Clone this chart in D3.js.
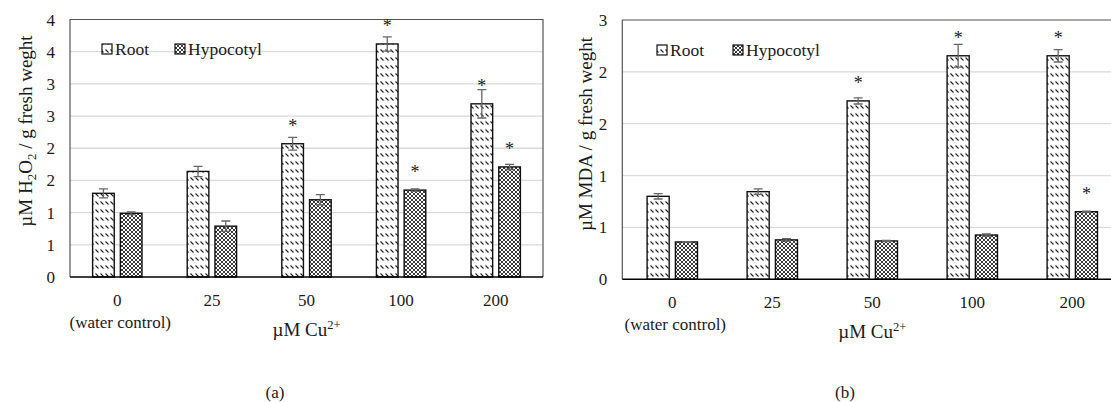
<!DOCTYPE html>
<html>
<head>
<meta charset="utf-8">
<script src="https://cdn.jsdelivr.net/npm/d3@7"></script>
<style>
    body { margin: 0; background: #fff; }
    text { font-family: "Liberation Serif", "Times New Roman", serif; fill: #1a1a1a; }
</style>
</head>
<body>
<svg id="chart" width="1111" height="402"></svg>
<script>
    // categories (uM Cu2+) and series
    var categories = ["0", "25", "50", "100", "200"];
    var seriesNames = ["Root", "Hypocotyl"];

    // (a) H2O2
    var h2o2Root = [1.30, 1.64, 2.07, 3.62, 2.69];
    var h2o2RootErr = [0.07, 0.08, 0.10, 0.11, 0.22];
    var h2o2Hypo = [0.99, 0.79, 1.20, 1.35, 1.71];
    var h2o2HypoErr = [0.02, 0.08, 0.08, 0.02, 0.04];
    var h2o2RootSig = [false, false, true, true, true];
    var h2o2HypoSig = [false, false, false, true, true];
    var h2o2Ticks = [0, 0.5, 1, 1.5, 2, 2.5, 3, 3.5, 4];
    var h2o2TickLabels = ["0", "1", "1", "2", "2", "3", "3", "4", "4"];

    // (b) MDA
    var mdaRoot = [0.80, 0.845, 1.72, 2.155, 2.155];
    var mdaRootErr = [0.026, 0.026, 0.03, 0.11, 0.06];
    var mdaHypo = [0.36, 0.38, 0.37, 0.427, 0.652];
    var mdaHypoErr = [0.004, 0.013, 0.006, 0.01, 0.005];
    var mdaRootSig = [false, false, true, true, true];
    var mdaHypoSig = [false, false, false, false, true];
    var mdaTicks = [0, 0.5, 1, 1.5, 2, 2.5];
    var mdaTickLabels = ["0", "1", "1", "2", "2", "3"];

    var svg = d3.select("#chart");

    // fill patterns like the excel ones
    var defs = svg.append("defs");
    var pRoot = defs.append("pattern").attr("id", "pat-root")
        .attr("patternUnits", "userSpaceOnUse").attr("width", 5).attr("height", 8);
    pRoot.append("rect").attr("width", 5).attr("height", 8).attr("fill", "#fff");
    pRoot.append("path").attr("d", "M0.5,1.5 L3.5,4.5").attr("stroke", "#222").attr("stroke-width", 1.1);

    var pHypo = defs.append("pattern").attr("id", "pat-hypo")
        .attr("patternUnits", "userSpaceOnUse").attr("width", 4).attr("height", 4);
    pHypo.append("rect").attr("width", 4).attr("height", 4).attr("fill", "#fff");
    pHypo.append("path").attr("d", "M0,0 L4,4 M4,0 L0,4").attr("stroke", "#3a3a3a").attr("stroke-width", 1);

    var fills = ["url(#pat-root)", "url(#pat-hypo)"];

    function drawPanel(cfg) {
        var g = svg.append("g");
        var x = d3.scaleBand().domain(categories)
            .range([cfg.left, cfg.right]).paddingInner(cfg.pad).paddingOuter(cfg.pad / 2);
        var xs = d3.scaleBand().domain(seriesNames)
            .range([0, x.bandwidth()]).paddingInner(0.22);
        var y = d3.scaleLinear().domain([0, cfg.yMax]).range([cfg.bottom, cfg.top]);

        // grid
        g.selectAll(".grid").data(cfg.ticks.slice(1, -1)).enter().append("line")
            .attr("x1", cfg.left).attr("x2", cfg.right)
            .attr("y1", function(d) { return y(d); }).attr("y2", function(d) { return y(d); })
            .attr("stroke", "#d9d9d9").attr("stroke-width", 1.3);

        // plot box
        g.append("path")
            .attr("d", "M" + cfg.left + "," + cfg.bottom + "V" + cfg.top + "H" + cfg.right + "V" + cfg.bottom)
            .attr("fill", "none").attr("stroke", "#555").attr("stroke-width", 1.2);

        // y tick labels
        g.selectAll(".ytl").data(cfg.ticks).enter().append("text")
            .attr("x", cfg.left - 15).attr("y", function(d) { return y(d) + 6; })
            .attr("text-anchor", "end").attr("font-size", 17)
            .text(function(d, i) { return cfg.tickLabels[i]; });

        var rows = categories.map(function(c, i) {
            return [
                {cat: c, s: 0, v: cfg.root[i], e: cfg.rootErr[i], sig: cfg.rootSig[i]},
                {cat: c, s: 1, v: cfg.hypo[i], e: cfg.hypoErr[i], sig: cfg.hypoSig[i]}
            ];
        });
        var bars = [].concat.apply([], rows);
        var bx = function(d) { return x(d.cat) + xs(seriesNames[d.s]); };
        var bw = xs.bandwidth();

        g.selectAll(".bar").data(bars).enter().append("rect")
            .attr("x", bx).attr("y", function(d) { return y(d.v); })
            .attr("width", bw).attr("height", function(d) { return y(0) - y(d.v); })
            .attr("fill", function(d) { return fills[d.s]; })
            .attr("stroke", "#111").attr("stroke-width", 1.4);

        // error bars
        var eb = g.selectAll(".err").data(bars).enter().append("g");
        eb.append("path")
            .attr("d", function(d) {
                var cx = bx(d) + bw / 2, y1 = y(d.v + d.e), y0 = y(d.v - d.e);
                return "M" + cx + "," + y0 + "V" + y1 + "M" + (cx - 4.5) + "," + y1 + "H" + (cx + 4.5) +
                    "M" + (cx - 4.5) + "," + y0 + "H" + (cx + 4.5);
            })
            .attr("fill", "none").attr("stroke", "#666").attr("stroke-width", 1.3);

        // significance stars
        g.selectAll(".star").data(bars.filter(function(d) { return d.sig; })).enter().append("text")
            .attr("x", function(d) { return bx(d) + bw / 2; })
            .attr("y", function(d) { return y(d.v) - 22 + 10; })
            .attr("text-anchor", "middle").attr("font-size", 18).attr("fill", "#3a3a4a")
            .text("*");

        // axis line
        g.append("line").attr("x1", cfg.left).attr("x2", cfg.right)
            .attr("y1", cfg.bottom).attr("y2", cfg.bottom)
            .attr("stroke", "#000").attr("stroke-width", 1.5);

        // x tick labels
        g.selectAll(".xtl").data(categories).enter().append("text")
            .attr("x", function(d) { return x(d) + x.bandwidth() / 2; })
            .attr("y", cfg.bottom + 29).attr("text-anchor", "middle").attr("font-size", 17)
            .text(function(d) { return d; });
        g.append("text")
            .attr("x", x(categories[0]) + x.bandwidth() / 2 + 3).attr("y", cfg.bottom + 51)
            .attr("text-anchor", "middle").attr("font-size", 17)
            .text("(water control)");

        var xt = g.append("text")
            .attr("x", (cfg.left + cfg.right) / 2).attr("y", cfg.bottom + 59)
            .attr("text-anchor", "middle").attr("font-size", 19);
        xt.append("tspan").text("\u00b5M Cu");
        xt.append("tspan").attr("font-size", 12.5).attr("dy", -7).text("2+");

        // y title
        var yt = g.append("text")
            .attr("transform", "translate(" + cfg.titleX + "," + cfg.titleY + ") rotate(-90)")
            .attr("text-anchor", "middle").attr("font-size", 19);
        cfg.title.forEach(function(part) {
            var t = yt.append("tspan").text(part[0]);
            if (part[1]) t.attr("font-size", 13).attr("dy", 4);
            else if (part[2]) t.attr("dy", -4);
        });

        // legend
        var lg = g.append("g");
        seriesNames.forEach(function(n, i) {
            var lx = cfg.legendX[i];
            lg.append("rect").attr("x", lx).attr("y", cfg.legendY - 5)
                .attr("width", 10).attr("height", 10)
                .attr("fill", fills[i]).attr("stroke", "#111").attr("stroke-width", 1.2);
            lg.append("text").attr("x", lx + 13).attr("y", cfg.legendY + 6)
                .attr("font-size", 17.5).text(n);
        });

        // panel letter
        g.append("text").attr("x", cfg.letterX).attr("y", 398)
            .attr("text-anchor", "middle").attr("font-size", 17).text(cfg.letter);
    }

    drawPanel({
        left: 70, right: 543, top: 19.5, bottom: 277, pad: 0.478,
        yMax: 4, ticks: h2o2Ticks, tickLabels: h2o2TickLabels,
        root: h2o2Root, rootErr: h2o2RootErr, hypo: h2o2Hypo, hypoErr: h2o2HypoErr,
        rootSig: h2o2RootSig, hypoSig: h2o2HypoSig,
        titleX: 32, titleY: 131,
        title: [["\u00b5M H"], ["2", true], ["O", false, true], ["2", true], [" / g fresh weght", false, true]],
        legendX: [102, 175], legendY: 49,
        letter: "(a)", letterX: 275
    });

    drawPanel({
        left: 622.3, right: 1122.3, top: 20, bottom: 279.3, pad: 0.496,
        yMax: 2.5, ticks: mdaTicks, tickLabels: mdaTickLabels,
        root: mdaRoot, rootErr: mdaRootErr, hypo: mdaHypo, hypoErr: mdaHypoErr,
        rootSig: mdaRootSig, hypoSig: mdaHypoSig,
        titleX: 592, titleY: 134,
        title: [["\u00b5M MDA / g fresh weght"]],
        legendX: [657, 733], legendY: 50,
        letter: "(b)", letterX: 845
    });
</script>
</body>
</html>
